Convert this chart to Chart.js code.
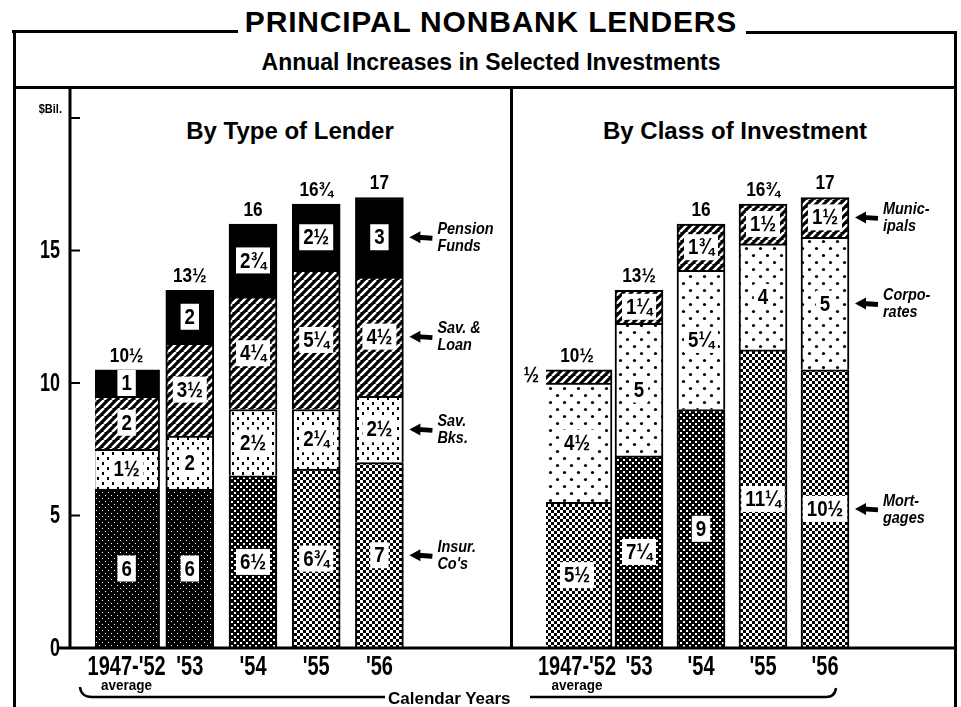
<!DOCTYPE html>
<html>
<head>
<meta charset="utf-8">
<script src="https://cdn.jsdelivr.net/npm/chart.js@4.4.1/dist/chart.umd.min.js"></script>
<style>
  body { margin: 0; background: #fff; width: 961px; height: 707px; overflow: hidden; position: relative; font-family: "Liberation Sans", Arial, sans-serif; }
  .abs { position: absolute; }
  .rule { position: absolute; background: #000; }
  #title { left: 0; width: 982px; top: 7px; text-align: center; font-weight: bold; font-size: 30px; letter-spacing: 0.8px; line-height: 30px; }
  #subtitle { left: 0; width: 982px; top: 49px; text-align: center; font-weight: bold; font-size: 23px; line-height: 26px; }
  .panel { top: 117px; font-weight: bold; font-size: 24px; line-height: 28px; text-align: center; }
  canvas { position: absolute; top: 0; }
</style>
</head>
<body>
<div class="abs" id="title">PRINCIPAL NONBANK LENDERS</div>
<div class="abs" id="subtitle">Annual Increases in Selected Investments</div>
<div class="rule" style="left:12px;top:30px;width:226px;height:3px"></div>
<div class="rule" style="left:746px;top:31px;width:211px;height:3px"></div>
<div class="rule" style="left:13px;top:30px;width:3px;height:677px"></div>
<div class="rule" style="left:954px;top:31px;width:3px;height:676px"></div>
<div class="rule" style="left:13px;top:86px;width:944px;height:3px"></div>
<div class="rule" style="left:510px;top:88px;width:3px;height:561px"></div>
<div class="abs panel" style="left:150px;width:280px">By Type of Lender</div>
<div class="abs panel" style="left:585px;width:300px">By Class of Investment</div>

<canvas id="left" width="512" height="707" style="left:0;width:512px;height:707px"></canvas>
<canvas id="right" width="449" height="707" style="left:512px;width:449px;height:707px"></canvas>

<svg class="abs" style="left:0;top:0" width="961" height="707">
  <path d="M80 687 Q81 697 92 697 L385 697" fill="none" stroke="#000" stroke-width="2.5"/>
  <path d="M530 697 L826 697 Q835 697 836 688" fill="none" stroke="#000" stroke-width="2.5"/>
  <text x="388" y="704" font-family="Liberation Sans, Arial" font-weight="bold" font-size="17">Calendar Years</text>
</svg>

<script>
const years = ["1947-'52", "'53", "'54", "'55", "'56"];

// By type of lender, $ billions
const insurCos = [6, 6, 6.5, 6.75, 7];
const savBanks = [1.5, 2, 2.5, 2.25, 2.5];
const savLoan = [2, 3.5, 4.25, 5.25, 4.5];
const pensionFunds = [1, 2, 2.75, 2.5, 3];

// By class of investment, $ billions
const mortgages = [5.5, 7.25, 9, 11.25, 10.5];
const corporates = [4.5, 5, 5.25, 4, 5];
const municipals = [0.5, 1.25, 1.75, 1.5, 1.5];

const yTicks = [0, 5, 10, 15];
const yMax = 20;

const lenderNotes = [["Insur.", "Co's"], ["Sav.", "Bks."], ["Sav. &", "Loan"], ["Pension", "Funds"]];
const classNotes = [["Mort-", "gages"], ["Corpo-", "rates"], ["Munic-", "ipals"]];

const FONT = '"Liberation Sans", Arial, sans-serif';

function frac(v) {
  const w = Math.floor(v), f = v - w;
  const s = f === 0.25 ? "¼" : f === 0.5 ? "½" : f === 0.75 ? "¾" : "";
  return (w ? String(w) : "") + s;
}

// squeezed text, the original lettering is a condensed face
function narrowText(ctx, text, x, y, sx) {
  ctx.save();
  ctx.translate(x, y);
  ctx.scale(sx, 1);
  ctx.fillText(text, 0, 0);
  ctx.restore();
}
function narrowWidth(ctx, text, sx) { return ctx.measureText(text).width * sx; }

// little tiles for the scanned screen patterns
function tile(size, draw) {
  const c = document.createElement("canvas");
  c.width = c.height = size;
  draw(c.getContext("2d"), size);
  return c;
}
function hatchTile() {
  return tile(8, (g, s) => {
    g.fillStyle = "#000"; g.fillRect(0, 0, s, s);
    g.strokeStyle = "#fff"; g.lineWidth = 2.6;
    [-s, 0, s].forEach(x0 => { g.beginPath(); g.moveTo(x0, s); g.lineTo(x0 + s, 0); g.stroke(); });
  });
}
function tickTile() {
  return tile(10, (g, s) => {
    g.fillStyle = "#fff"; g.fillRect(0, 0, s, s);
    g.fillStyle = "#000"; g.fillRect(2, 2, 2, 3); g.fillRect(7, 7, 2, 3);
  });
}
function dotTile() {
  return tile(14, (g, s) => {
    g.fillStyle = "#fff"; g.fillRect(0, 0, s, s);
    g.fillStyle = "#000";
    [[3.5, 3.5], [10.5, 10.5]].forEach(([x, y]) => { g.beginPath(); g.arc(x, y, 1.6, 0, Math.PI * 2); g.fill(); });
  });
}
function crossTile(size, n) {
  const h = size / 2;
  return tile(size, (g, s) => {
    g.fillStyle = "#000"; g.fillRect(0, 0, s, s);
    g.fillStyle = "#fff"; g.fillRect(0, 0, n, n); g.fillRect(h, h, n, n);
  });
}

function patterns(ctx) {
  const p = t => ctx.createPattern(t, "repeat");
  return {
    hatch: p(hatchTile()), ticks: p(tickTile()), dots: p(dotTile()),
    black: p(crossTile(6, 1)), dark: p(crossTile(6, 2)), medium: p(crossTile(6, 3))
  };
}

function stackDatasets(series, fills, avgWidth, yearWidth) {
  const out = [];
  series.forEach((vals, k) => {
    out.push({ data: vals.map((v, i) => i === 0 ? v : null), backgroundColor: fills[k], barThickness: avgWidth, stack: "s" });
    out.push({ data: vals.map((v, i) => i === 0 ? null : v), backgroundColor: fills[k], barThickness: yearWidth, stack: "s" });
  });
  return out;
}

function chartOptions(padLeft, padRight) {
  return {
    responsive: false, animation: false, devicePixelRatio: 1,
    layout: { padding: { left: padLeft, right: padRight, top: 118, bottom: 0 } },
    plugins: { legend: { display: false }, tooltip: { enabled: false } },
    elements: { bar: { borderColor: "#000", borderWidth: 2, borderSkipped: "start" } },
    scales: {
      x: {
        stacked: true, offset: true,
        grid: { display: false, drawTicks: false }, border: { display: false },
        ticks: { display: false },
        afterFit: s => { s.height = 59; }
      },
      y: { stacked: true, display: false, min: 0, max: yMax }
    }
  };
}

function decor(series, notes, leftAxis, baseFrom, baseTo) {
  return {
    id: "decor",
    afterDatasetsDraw(chart) {
      const ctx = chart.ctx, xs = chart.scales.x, ys = chart.scales.y;
      const y0 = ys.getPixelForValue(0);
      ctx.save();
      ctx.fillStyle = "#000"; ctx.strokeStyle = "#000";

      // baseline
      ctx.lineWidth = 3;
      ctx.beginPath(); ctx.moveTo(baseFrom, y0); ctx.lineTo(baseTo, y0); ctx.stroke();

      if (leftAxis) {
        ctx.beginPath(); ctx.moveTo(70, 89); ctx.lineTo(70, y0); ctx.stroke();
        ctx.lineWidth = 2;
        yTicks.concat([yMax]).forEach(v => {
          const y = ys.getPixelForValue(v);
          ctx.beginPath(); ctx.moveTo(70, y); ctx.lineTo(80, y); ctx.stroke();
        });
        ctx.font = "bold 25px " + FONT;
        ctx.textAlign = "right"; ctx.textBaseline = "middle";
        yTicks.forEach(v => narrowText(ctx, String(v), 60, ys.getPixelForValue(v) + 1, 0.72));
        ctx.font = "bold 13px " + FONT;
        narrowText(ctx, "$Bil.", 62, ys.getPixelForValue(yMax) - 9, 0.85);
      }

      // category labels under the baseline
      ctx.textAlign = "center"; ctx.textBaseline = "middle";
      ctx.font = "bold 27px " + FONT;
      years.forEach((lab, i) => narrowText(ctx, lab, xs.getPixelForValue(i), 668, 0.74));
      ctx.font = "bold 15px " + FONT;
      narrowText(ctx, "average", xs.getPixelForValue(0), 686, 0.9);

      // segment values
      ctx.font = "bold 22px " + FONT;
      chart.data.datasets.forEach((ds, di) => {
        chart.getDatasetMeta(di).data.forEach((bar, i) => {
          const v = ds.data[i];
          if (v == null) return;
          const h = bar.base - bar.y, cy = (bar.y + bar.base) / 2, t = frac(v);
          if (h < 20) {
            ctx.textAlign = "right"; ctx.fillStyle = "#000";
            narrowText(ctx, t, bar.x - bar.width / 2 - 3, cy, 0.85);
            return;
          }
          ctx.textAlign = "center";
          const w = narrowWidth(ctx, t, 0.85) + 8;
          ctx.fillStyle = "#fff"; ctx.fillRect(bar.x - w / 2, cy - 13, w, 26);
          ctx.fillStyle = "#000"; narrowText(ctx, t, bar.x, cy + 1, 0.85);
        });
      });

      // totals above bars
      ctx.textAlign = "center";
      ctx.font = "bold 21px " + FONT;
      years.forEach((_, i) => {
        const total = series.reduce((s, a) => s + a[i], 0);
        narrowText(ctx, frac(total), xs.getPixelForValue(i), ys.getPixelForValue(total) - 14, 0.82);
      });

      // arrows and side notes next to last bar
      notes.forEach((lines, k) => {
        const bar = chart.getDatasetMeta(2 * k + 1).data[years.length - 1];
        const cy = (bar.y + bar.base) / 2, x0 = bar.x + bar.width / 2 + 6;
        ctx.beginPath(); ctx.moveTo(x0, cy); ctx.lineTo(x0 + 11, cy - 6); ctx.lineTo(x0 + 11, cy + 6); ctx.closePath(); ctx.fill();
        ctx.lineWidth = 5;
        ctx.beginPath(); ctx.moveTo(x0 + 8, cy); ctx.lineTo(x0 + 23, cy + 1); ctx.stroke();
        ctx.font = "italic bold 17px " + FONT;
        ctx.textAlign = "left";
        narrowText(ctx, lines[0], x0 + 28, cy - 8, 0.85);
        narrowText(ctx, lines[1], x0 + 28, cy + 9, 0.85);
      });
      ctx.restore();
    }
  };
}

// left panel: by type of lender
const leftCtx = document.getElementById("left").getContext("2d");
const lp = patterns(leftCtx);
const lenderSeries = [insurCos, savBanks, savLoan, pensionFunds];
new Chart(leftCtx, {
  type: "bar",
  data: {
    labels: years,
    datasets: stackDatasets(lenderSeries,
      [[lp.black, lp.black, lp.dark, lp.medium, lp.medium], lp.ticks, lp.hatch, "#000"], 66, 48)
  },
  options: chartOptions(95, 101),
  plugins: [decor(lenderSeries, lenderNotes, true, 57, 512)]
});

// right panel: by class of investment
const rightCtx = document.getElementById("right").getContext("2d");
const rp = patterns(rightCtx);
const classSeries = [mortgages, corporates, municipals];
new Chart(rightCtx, {
  type: "bar",
  data: {
    labels: years,
    datasets: stackDatasets(classSeries,
      [[rp.medium, rp.dark, rp.dark, rp.medium, rp.medium], rp.dots, rp.hatch], 70, 48)
  },
  options: chartOptions(34, 105),
  plugins: [decor(classSeries, classNotes, false, 0, 445)]
});
</script>
</body>
</html>
